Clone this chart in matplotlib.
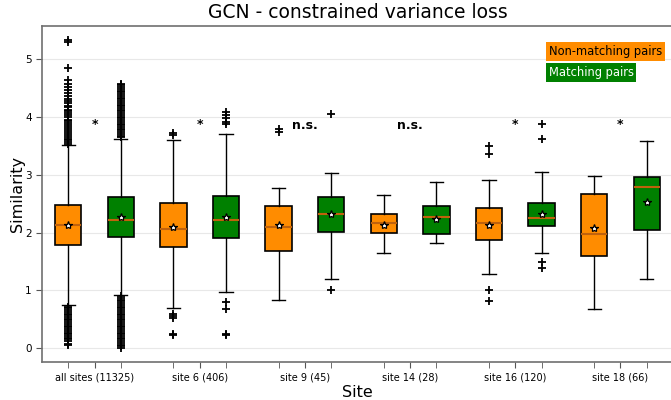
import matplotlib
matplotlib.use("Agg")
import matplotlib.pyplot as plt
import numpy as np

# sites and sample counts
sites = ["all sites (11325)", "site 6 (406)", "site 9 (45)", "site 14 (28)", "site 16 (120)", "site 18 (66)"]
signif = ["*", "*", "n.s.", "n.s.", "*", "*"]

# box stats, order: non-matching / matching for each site
q1 = [1.78, 1.93, 1.75, 1.90, 1.69, 2.01, 1.99, 1.97, 1.87, 2.12, 1.60, 2.04]
q3 = [2.48, 2.61, 2.51, 2.64, 2.47, 2.61, 2.32, 2.47, 2.42, 2.52, 2.67, 2.97]
med = [2.14, 2.22, 2.07, 2.22, 2.09, 2.32, 2.17, 2.28, 2.17, 2.26, 1.98, 2.79]
mean = [2.14, 2.27, 2.10, 2.28, 2.13, 2.33, 2.13, 2.24, 2.14, 2.32, 2.08, 2.54]
whislo = [0.74, 0.92, 0.70, 0.97, 0.83, 1.20, 1.65, 1.82, 1.29, 1.65, 0.67, 1.19]
whishi = [3.52, 3.63, 3.60, 3.71, 2.78, 3.03, 2.65, 2.88, 2.92, 3.05, 2.98, 3.59]

# outliers
fliers = [
    [3.54, 3.57, 3.60, 3.63, 3.66, 3.70, 3.73, 3.76, 3.80, 3.83, 3.86, 3.90, 3.93, 3.96, 4.00,
     4.03, 4.07, 4.10, 4.13, 4.17, 4.20, 4.24, 4.28, 4.32, 4.36, 4.42, 4.47, 4.53, 4.58, 4.65,
     4.85, 5.30, 5.34,
     0.72, 0.69, 0.66, 0.63, 0.60, 0.57, 0.54, 0.51, 0.48, 0.45, 0.42, 0.39, 0.36, 0.33, 0.30,
     0.27, 0.24, 0.21, 0.18, 0.15, 0.12, 0.08, 0.05],
    [3.65, 3.68, 3.71, 3.74, 3.77, 3.80, 3.83, 3.86, 3.89, 3.92, 3.95, 3.98, 4.01, 4.04, 4.07,
     4.10, 4.13, 4.16, 4.19, 4.22, 4.25, 4.28, 4.31, 4.34, 4.37, 4.40, 4.43, 4.46, 4.49, 4.52,
     4.55, 4.58,
     0.90, 0.87, 0.84, 0.81, 0.78, 0.75, 0.72, 0.69, 0.66, 0.63, 0.60, 0.57, 0.54, 0.51, 0.48,
     0.45, 0.42, 0.39, 0.36, 0.33, 0.30, 0.27, 0.24, 0.21, 0.18, 0.15, 0.12, 0.09, 0.06, 0.03, 0.01],
    [3.70, 3.72, 0.60, 0.56, 0.52, 0.24, 0.23],
    [4.09, 4.03, 3.98, 3.92, 3.88, 0.80, 0.68, 0.24, 0.22],
    [3.79, 3.75],
    [4.05, 1.01],
    [],
    [],
    [3.51, 3.37, 1.01, 0.82],
    [3.89, 3.63, 1.50, 1.38],
    [],
    [],
]

colors = ["darkorange", "green"] * 6
positions = np.arange(1, 13)

stats = []
for i in range(12):
    stats.append({"q1": q1[i], "q3": q3[i], "med": med[i], "mean": mean[i],
                  "whislo": whislo[i], "whishi": whishi[i], "fliers": fliers[i]})

fig = plt.figure(figsize=(6.71, 4.0), dpi=100)
ax = fig.add_axes([0.0626, 0.095, 0.9404, 0.84])

bp = ax.bxp(stats, positions=positions, widths=0.5, showmeans=True, patch_artist=True,
            boxprops=dict(edgecolor="black", linewidth=1.2),
            whiskerprops=dict(color="black", linewidth=1.0),
            capprops=dict(color="black", linewidth=1.0),
            medianprops=dict(color="#c0620c", linewidth=1.5),
            meanprops=dict(marker="*", markerfacecolor="white", markeredgecolor="black",
                           markersize=6, markeredgewidth=0.9),
            flierprops=dict(marker="+", markeredgecolor="black", markersize=6, markeredgewidth=1.3))
for patch, c in zip(bp["boxes"], colors):
    patch.set_facecolor(c)

mids = positions[::2] + 0.5
for x, s in zip(mids, signif):
    if s == "*":
        ax.text(x, 3.88, s, ha="center", va="center", fontsize=9, fontweight="bold")
    else:
        ax.text(x, 3.86, s, ha="center", va="center", fontsize=9, fontweight="bold")

ax.set_xlim(0.5, 12.5)
ax.set_ylim(-0.24, 5.58)
ax.set_xticks(mids)
ax.set_xticklabels(sites, fontsize=7)
ax.set_xticks(positions, minor=True)
ax.tick_params(axis="x", which="both", length=4, color="#555555")
ax.tick_params(axis="y", labelsize=7.5, length=4, color="#555555")
ax.set_yticks([0, 1, 2, 3, 4, 5])
ax.yaxis.grid(True, color="#e8e8e8", linewidth=0.8)
ax.set_axisbelow(True)
for sp in ax.spines.values():
    sp.set_color("#707070")
    sp.set_linewidth(1.2)

ax.set_title("GCN - constrained variance loss", fontsize=13.5)
ax.set_xlabel("Site", fontsize=11.5, labelpad=2)
ax.set_ylabel("Similarity", fontsize=11.5, labelpad=0)

fig.text(0.8175, 0.871, "Non-matching pairs", fontsize=8.3, color="black", va="center",
         bbox=dict(boxstyle="square,pad=0.25", facecolor="darkorange", edgecolor="none"))
fig.text(0.8175, 0.818, "Matching pairs", fontsize=8.3, color="white", va="center",
         bbox=dict(boxstyle="square,pad=0.25", facecolor="green", edgecolor="none"))

fig.savefig("out.png", dpi=100)
